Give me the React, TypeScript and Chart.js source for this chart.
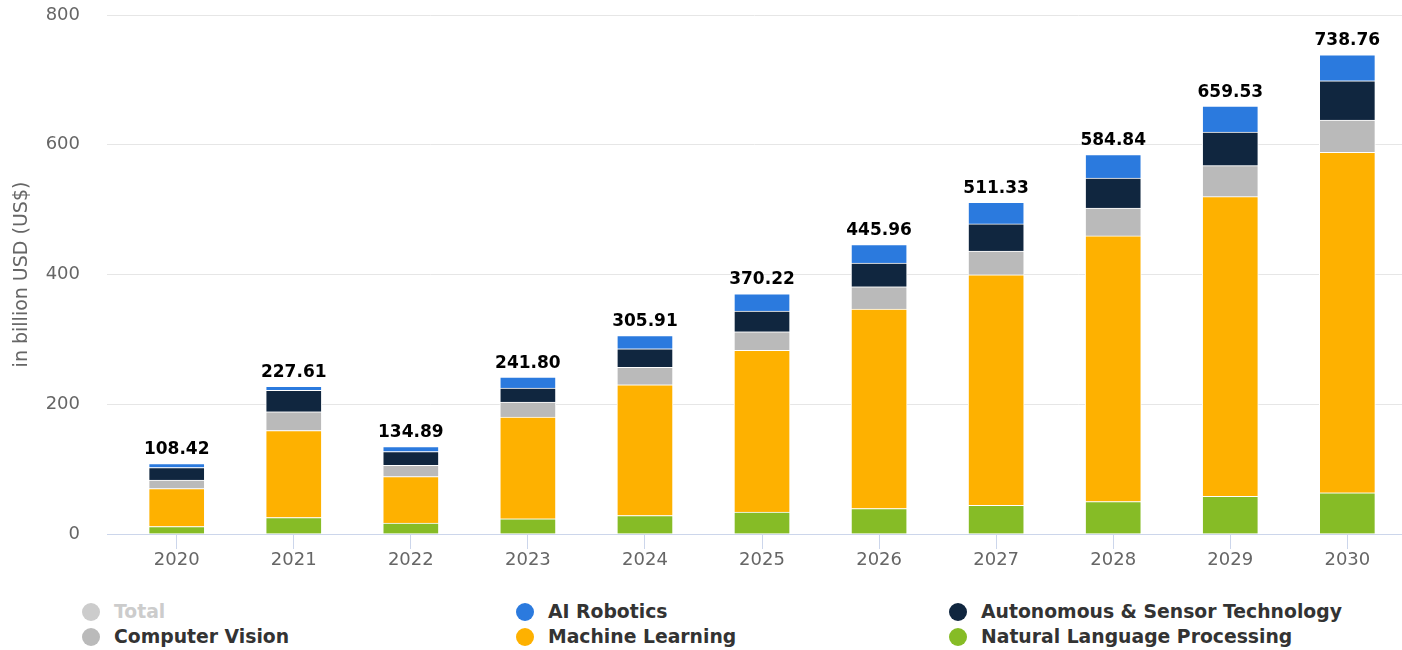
import React, { useEffect, useRef } from "react";
import { Chart, registerables } from "chart.js";

Chart.register(...registerables);

const categories = ["2020", "2021", "2022", "2023", "2024", "2025", "2026", "2027", "2028", "2029", "2030"];
const naturalLanguageProcessing = [11.5, 25.5, 17, 23.4, 28.5, 33.6, 39.3, 44.3, 50, 58.2, 63.4];
const machineLearning = [58.5, 134, 71.5, 157, 201.6, 249.4, 307.4, 355.2, 409.5, 461.8, 525];
const computerVision = [13, 29, 17.5, 23, 26.7, 28.7, 34.3, 36.5, 42.7, 47.7, 49.7];
const autonomousSensor = [19.5, 33, 21, 21.5, 28.8, 31.9, 36.5, 42, 46.6, 51.9, 60.5];
const aiRobotics = [5.92, 6.11, 7.89, 16.9, 20.31, 26.62, 28.46, 33.33, 36.04, 39.93, 40.16];
const totals = [108.42, 227.61, 134.89, 241.8, 305.91, 370.22, 445.96, 511.33, 584.84, 659.53, 738.76];
const yTicks = [0, 200, 400, 600, 800];

const COLORS = {
  total: "#cccccc",
  robotics: "#2b7ade",
  autonomous: "#10263f",
  vision: "#bababa",
  ml: "#feb100",
  nlp: "#86bc26",
};

const legendItems = [
  { label: "Total", color: COLORS.total, text: "#cccccc", col: 0, row: 0 },
  { label: "AI Robotics", color: COLORS.robotics, text: "#333333", col: 1, row: 0 },
  { label: "Autonomous & Sensor Technology", color: COLORS.autonomous, text: "#333333", col: 2, row: 0 },
  { label: "Computer Vision", color: COLORS.vision, text: "#333333", col: 0, row: 1 },
  { label: "Machine Learning", color: COLORS.ml, text: "#333333", col: 1, row: 1 },
  { label: "Natural Language Processing", color: COLORS.nlp, text: "#333333", col: 2, row: 1 },
];

const FONT = "'DejaVu Sans', sans-serif";

const totalLabels = {
  id: "totalLabels",
  afterDatasetsDraw(chart: any) {
    const { ctx, scales } = chart;
    const xs = scales.x;
    const ys = scales.y;
    ctx.save();
    ctx.font = `bold 17px ${FONT}`;
    ctx.fillStyle = "#000000";
    ctx.textAlign = "center";
    ctx.textBaseline = "alphabetic";
    totals.forEach((t, i) => {
      const x = xs.getPixelForValue(i);
      const y = ys.getPixelForValue(t);
      ctx.fillText(t.toFixed(2), x, y - 9.5);
    });
    ctx.restore();
  },
};

export default function App() {
  const canvasRef = useRef<HTMLCanvasElement | null>(null);

  useEffect(() => {
    if (!canvasRef.current) return;
    const mk = (label: string, data: number[], color: string) => ({
      label,
      data: data.map((v, i) => ({ x: i, y: v })),
      backgroundColor: color,
      borderColor: "#ffffff",
      borderWidth: 1,
      barThickness: 56,
      stack: "s",
    });
    const chart = new Chart(canvasRef.current, {
      type: "bar",
      data: {
        datasets: [
          mk("Natural Language Processing", naturalLanguageProcessing, COLORS.nlp),
          mk("Machine Learning", machineLearning, COLORS.ml),
          mk("Computer Vision", computerVision, COLORS.vision),
          mk("Autonomous & Sensor Technology", autonomousSensor, COLORS.autonomous),
          mk("AI Robotics", aiRobotics, COLORS.robotics),
        ] as any,
      },
      options: {
        animation: false,
        responsive: false,
        layout: { padding: { top: 15, right: 0, bottom: 0, left: 0 } },
        plugins: {
          legend: { display: false },
          tooltip: { enabled: false },
        },
        scales: {
          x: {
            type: "linear",
            stacked: true,
            offset: false,
            min: -0.5954,
            max: 10.467,
            afterFit: (s: any) => {
              s.height = 46;
            },
            ticks: {
              stepSize: 1,
              includeBounds: false,
              autoSkip: false,
              maxRotation: 0,
              padding: 1,
              color: "#666666",
              font: { family: FONT, size: 18 },
              callback: (v: any) => categories[v] ?? "",
            },
            grid: {
              offset: false,
              drawOnChartArea: false,
              drawTicks: true,
              tickLength: 15,
              color: "#ccd6eb",
            },
            border: { display: true, color: "#ccd6eb", width: 1 },
          },
          y: {
            stacked: true,
            min: 0,
            max: 800,
            afterFit: (s: any) => {
              s.width = 107;
            },
            afterBuildTicks: (s: any) => {
              s.ticks = yTicks.map((v) => ({ value: v }));
            },
            ticks: {
              padding: 0,
              color: "#666666",
              font: { family: FONT, size: 18 },
            },
            grid: {
              drawTicks: true,
              tickLength: 27,
              tickColor: "rgba(0,0,0,0)",
              color: (c: any) => (c.tick && c.tick.value === 0 ? "#ccd6eb" : "#e6e6e6"),
            },
            border: { display: false },
            title: {
              display: true,
              text: "in billion USD (US$)",
              color: "#666666",
              font: { family: FONT, size: 19 },
              padding: { top: 11, bottom: 0 },
            },
          },
        },
      },
      plugins: [totalLabels],
    } as any);
    return () => chart.destroy();
  }, []);

  const colX = [91, 525, 958];
  const rowY = [612, 637];

  return (
    <div style={{ position: "absolute", left: 0, top: 0, width: 1402, height: 650, background: "#ffffff", overflow: "hidden" }}>
      <canvas ref={canvasRef} width={1402} height={580} style={{ display: "block", width: 1402, height: 580 }} />
      {legendItems.map((it) => (
        <div key={it.label}>
          <div
            style={{
              position: "absolute",
              left: colX[it.col] - 9,
              top: rowY[it.row] - 9,
              width: 18,
              height: 18,
              borderRadius: "50%",
              background: it.color,
            }}
          />
          <div
            style={{
              position: "absolute",
              left: colX[it.col] + 23,
              top: rowY[it.row] - 12,
              height: 24,
              lineHeight: "24px",
              fontFamily: FONT,
              fontWeight: "bold",
              fontSize: 18.8,
              color: it.text,
              whiteSpace: "nowrap",
            }}
          >
            {it.label}
          </div>
        </div>
      ))}
    </div>
  );
}
